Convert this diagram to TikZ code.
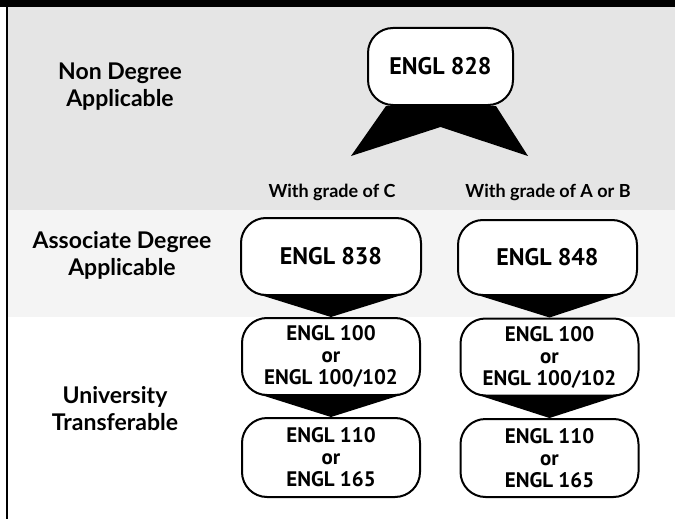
\documentclass[tikz,border=0pt]{standalone}
\usepackage{fontspec}
\setmainfont{PT Sans}
\newfontfamily\labelfont{Lato}
\definecolor{bandgray}{HTML}{E5E5E5}
\definecolor{bandlight}{HTML}{F4F4F4}
\pgfdeclarelayer{bands}
\pgfdeclarelayer{wedges}
\pgfsetlayers{bands,wedges,main}
\begin{document}
\begin{tikzpicture}[x=1pt,y=-1pt,
    course/.style={draw=black, line width=2pt, fill=white, rounded corners=25pt, inner sep=0pt, align=center, font=\bfseries\fontsize{24}{28}\selectfont},
    choice/.style={course, minimum width=178pt, minimum height=77pt, font=\bfseries\fontsize{21}{22}\selectfont},
    level/.style={align=center, font=\labelfont\bfseries\fontsize{23}{27}\selectfont},
    grade/.style={font=\labelfont\bfseries\fontsize{18}{22}\selectfont},
    wedge/.style={fill=black}]
    \useasboundingbox (0,0) rectangle (675,519);
    \begin{pgfonlayer}{bands}
      \fill[bandgray] (8,0) rectangle (675,210);
      \fill[bandlight] (8,210) rectangle (675,317);
      \fill[black] (0,0) rectangle (675,7);
      \draw[line width=1.5pt] (7,0) -- (7,519);
    \end{pgfonlayer}
    % levels
    \node[level] (nondeg) at (120,87) {Non Degree\\Applicable};
    \node[level] (assoc) at (122,255) {Associate Degree\\Applicable};
    \node[level] (univ) at (115,409) {University\\Transferable};
    % courses
    \node[course, minimum width=145pt, minimum height=77pt] (c828) at (440.5,66.5) {ENGL 828};
    \node[grade] (gradec) at (332,192) {With grade of C};
    \node[grade] (gradeab) at (548,192) {With grade of A or B};
    \node[course, minimum width=180pt, minimum height=77pt] (c838) at (331,256.5) {ENGL 838};
    \node[course, minimum width=179pt, minimum height=75pt] (c848) at (547.5,257.5) {ENGL 848};
    \node[choice] (c100a) at (331,356.5) {ENGL 100\\or\\ENGL 100/102};
    \node[choice] (c100b) at (549.5,357) {ENGL 100\\or\\ENGL 100/102};
    \node[choice, minimum height=79pt] (c110a) at (331,457.5) {ENGL 110\\or\\ENGL 165};
    \node[choice, minimum height=78pt] (c110b) at (549.5,458) {ENGL 110\\or\\ENGL 165};
    % split below ENGL 828
    \coordinate (tipc) at (351,156);
    \coordinate (tipab) at (528,156);
    \coordinate (notch) at ([yshift=-21pt]c828.south);
    \begin{pgfonlayer}{wedges}
      \fill[wedge] ([xshift=19pt]c828.south west) -- (tipc) -- (notch) -- (tipab) -- ([xshift=-18pt]c828.south east) -- cycle;
      \foreach \a/\b in {c838/c100a, c848/c100b, c100a/c110a, c100b/c110b}
        \fill[wedge] ([xshift=14pt,yshift=3pt]\a.south west) -- ([xshift=-14pt,yshift=3pt]\a.south east) -- (\b.north) -- cycle;
    \end{pgfonlayer}
\end{tikzpicture}
\end{document}
